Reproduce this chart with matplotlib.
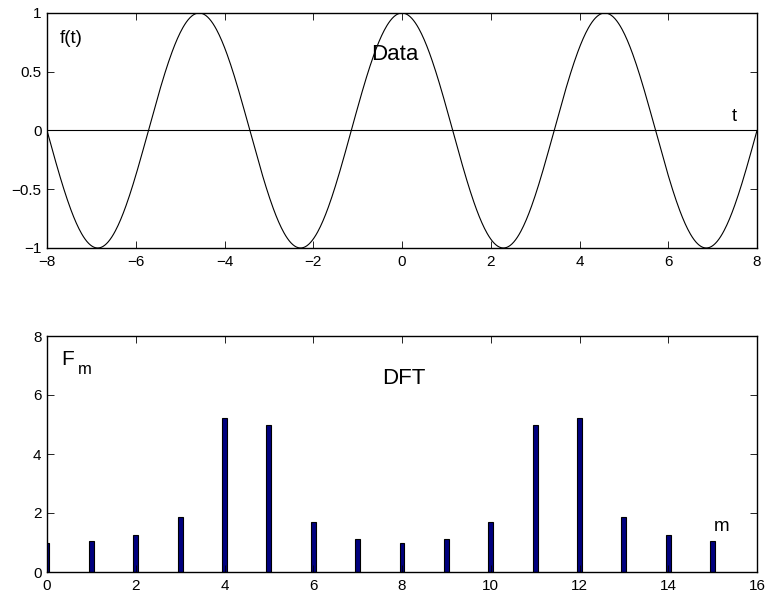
import numpy as np
import matplotlib
matplotlib.use("Agg")
import matplotlib.pyplot as plt

plt.rcParams['font.family'] = ['Liberation Sans', 'DejaVu Sans']

# 数据：连续信号 f(t) = cos(2*pi*k*t/T)，k = 3.5 个周期落在 [-8, 8] 上
t_min, t_max = -8, 8
cycles = 3.5
period_span = 16
t = np.linspace(t_min, t_max, 801)
f_t = np.cos(2 * np.pi * cycles * t / period_span)

# DFT 幅值
m_index = list(range(16))
dft_mag = [0.99, 1.05, 1.25, 1.87, 5.21, 5.00, 1.69, 1.13,
           0.99, 1.13, 1.69, 5.00, 5.21, 1.87, 1.25, 1.05]

top_xticks = [-8, -6, -4, -2, 0, 2, 4, 6, 8]
top_yticks = [-1, -0.5, 0, 0.5, 1]
top_yticklabels = ['\u22121', '\u22120.5', '0', '0.5', '1']
top_xticklabels = ['\u22128', '\u22126', '\u22124', '\u22122', '0', '2', '4', '6', '8']
bot_xticks = [0, 2, 4, 6, 8, 10, 12, 14, 16]
bot_yticks = [0, 2, 4, 6, 8]

fig = plt.figure(figsize=(7.68, 5.98), dpi=100)
W, H = 768, 598
ax1 = fig.add_axes([47 / W, 1 - 248 / H, 710 / W, 235 / H])
ax2 = fig.add_axes([47 / W, 1 - 572 / H, 710 / W, 236 / H])


def style_axes(ax):
    for s in ax.spines.values():
        s.set_linewidth(1.0)
        s.set_color('black')
    ax.tick_params(direction='in', top=True, right=True, length=5, width=0.6,
                   labelsize=11)
    ax.tick_params(axis='x', pad=5)
    ax.tick_params(axis='y', pad=4)


# 上图：信号
ax1.plot(t, f_t, color='black', linewidth=0.8)
ax1.axhline(0, color='black', linewidth=0.8)
ax1.set_xlim(t_min, t_max)
ax1.set_ylim(-1, 1)
ax1.set_xticks(top_xticks)
ax1.set_xticklabels(top_xticklabels)
ax1.set_yticks(top_yticks)
ax1.set_yticklabels(top_yticklabels)
style_axes(ax1)
ax1.text(-7.71, 0.787, 'f(t)', fontsize=13.5, va='center', ha='left')
ax1.text(-0.70, 0.651, 'Data', fontsize=16, va='center', ha='left')
ax1.text(7.42, 0.115, 't', fontsize=13, va='center', ha='left')

# 下图：DFT
ax2.bar(m_index, dft_mag, width=0.11, color='#00007f', edgecolor='black',
        linewidth=0.8)
ax2.set_xlim(0, 16)
ax2.set_ylim(0, 8)
ax2.set_xticks(bot_xticks)
ax2.set_yticks(bot_yticks)
style_axes(ax2)
ax2.text(0.31, 7.20, 'F', fontsize=15, va='center', ha='left')
ax2.text(0.70, 6.85, 'm', fontsize=12, va='center', ha='left')
ax2.text(7.55, 6.56, 'DFT', fontsize=16, va='center', ha='left')
ax2.text(15.02, 1.53, 'm', fontsize=13.5, va='center', ha='left')

fig.savefig('out.png', dpi=100)
